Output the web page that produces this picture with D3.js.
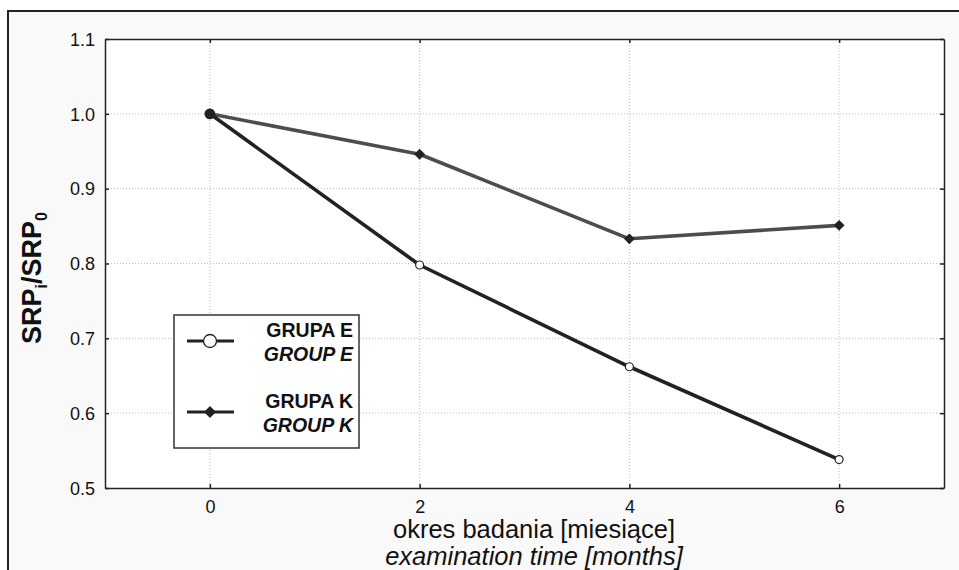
<!DOCTYPE html>
<html><head><meta charset="utf-8">
<script src="https://cdn.jsdelivr.net/npm/d3@7"></script>
<style>body{margin:0;background:#fff}svg{display:block;font-family:"Liberation Sans",Arial,sans-serif}</style>
</head><body>
<svg id="c" width="959" height="570"></svg>
<script>
const months = [0, 2, 4, 6];
const groupE = [1.0, 0.798, 0.662, 0.538];
const groupK = [1.0, 0.946, 0.833, 0.851];
const xTicks = [0, 2, 4, 6];
const yTicks = [0.5, 0.6, 0.7, 0.8, 0.9, 1.0, 1.1];
const legendE = ["GRUPA E", "GROUP E"];
const legendK = ["GRUPA K", "GROUP K"];
const xTitle = ["okres badania [miesiące]", "examination time [months]"];

const svg = d3.select("#c");
const m = {l:105, t:39, r:944, b:488};
const x = d3.scaleLinear().domain([-1, 7]).range([m.l, m.r]);
const y = d3.scaleLinear().domain([0.5, 1.1]).range([m.b, m.t]);

// outer frame
svg.append("rect").attr("x",8).attr("y",11).attr("width",980).attr("height",600)
  .attr("fill","#f9f9f9").attr("stroke","#222").attr("stroke-width",2);
// plot area
svg.append("rect").attr("x",m.l).attr("y",m.t).attr("width",m.r-m.l).attr("height",m.b-m.t)
  .attr("fill","#fff");

// grid
const g = svg.append("g");
g.selectAll(".gx").data(xTicks).join("line")
  .attr("x1",d=>x(d)).attr("x2",d=>x(d)).attr("y1",m.t).attr("y2",m.b)
  .attr("stroke","#bbb").attr("stroke-width",1).attr("stroke-dasharray","1,2");
g.selectAll(".gy").data(yTicks.slice(1,-1)).join("line")
  .attr("y1",d=>y(d)).attr("y2",d=>y(d)).attr("x1",m.l).attr("x2",m.r)
  .attr("stroke","#bbb").attr("stroke-width",1).attr("stroke-dasharray","1,2");

// axes
const ax = svg.append("g").attr("transform",`translate(0,${m.b})`)
  .call(d3.axisBottom(x).tickValues(xTicks).tickFormat(d3.format("d")).tickSizeInner(-4).tickSizeOuter(0).tickPadding(12));
const ay = svg.append("g").attr("transform",`translate(${m.l},0)`)
  .call(d3.axisLeft(y).tickValues(yTicks).tickFormat(d3.format(".1f")).tickSizeInner(-4).tickSizeOuter(0).tickPadding(10));
const at = svg.append("g").attr("transform",`translate(0,${m.t})`)
  .call(d3.axisTop(x).tickValues(xTicks).tickFormat("").tickSizeInner(-4).tickSizeOuter(0));
const ar = svg.append("g").attr("transform",`translate(${m.r},0)`)
  .call(d3.axisRight(y).tickValues(yTicks).tickFormat("").tickSizeInner(-4).tickSizeOuter(0));
[ax,ay,at,ar].forEach(a=>{
  a.select(".domain").attr("stroke","#222").attr("stroke-width",1.5);
  a.selectAll(".tick line").attr("stroke","#222").attr("stroke-width",1.5);
  a.selectAll("text").attr("font-size",18).attr("fill","#111").attr("font-family","Liberation Sans, Arial, sans-serif");
});
ay.selectAll("text").attr("dy","0.35em");

// lines
const pts = vals => months.map((mo,i)=>[mo, vals[i]]);
const line = d3.line().x(d=>x(d[0])).y(d=>y(d[1]));
svg.append("path").datum(pts(groupK)).attr("d",line).attr("fill","none")
  .attr("stroke","#4d4d4d").attr("stroke-width",3.6).attr("stroke-linejoin","round");
svg.append("path").datum(pts(groupE)).attr("d",line).attr("fill","none")
  .attr("stroke","#222").attr("stroke-width",3.6).attr("stroke-linejoin","round");

const diamond = d3.symbol().type(d3.symbolDiamond2).size(75);
// markers
svg.selectAll(".mk").data(pts(groupK)).join("path")
  .attr("transform",d=>`translate(${x(d[0])},${y(d[1])})`).attr("d",diamond).attr("fill","#222");
svg.selectAll(".me").data(pts(groupE)).join("circle")
  .attr("cx",d=>x(d[0])).attr("cy",d=>y(d[1])).attr("r",d=>groupK[months.indexOf(d[0])]===d[1]?4.8:4)
  .attr("fill",d=>groupK[months.indexOf(d[0])]===d[1]?"#222":"#fff")
  .attr("stroke","#222").attr("stroke-width",1.2);

// legend
const lg = svg.append("g");
lg.append("rect").attr("x",174).attr("y",315).attr("width",185).attr("height",133)
  .attr("fill","#fff").attr("stroke","#333").attr("stroke-width",1.5);
const ly = [341, 412];
[[legendE,"E"],[legendK,"K"]].forEach(([lab,k],i)=>{
  lg.append("line").attr("x1",187).attr("x2",234).attr("y1",ly[i]).attr("y2",ly[i])
    .attr("stroke","#222").attr("stroke-width",3);
  if(k==="E") lg.append("circle").attr("cx",210).attr("cy",ly[i]).attr("r",6.5)
    .attr("fill","#fff").attr("stroke","#222").attr("stroke-width",1.3);
  else lg.append("path").attr("transform",`translate(210,${ly[i]})`)
    .attr("d",d3.symbol().type(d3.symbolDiamond2).size(90)).attr("fill","#222");
  lg.append("text").attr("x",353).attr("y",ly[i]-4).attr("text-anchor","end")
    .attr("font-size",19.5).attr("font-weight","bold").attr("fill","#111").text(lab[0]);
  lg.append("text").attr("x",353).attr("y",ly[i]+20).attr("text-anchor","end")
    .attr("font-size",19.5).attr("font-weight","bold").attr("font-style","italic").attr("fill","#111").text(lab[1]);
});

// axis titles
svg.append("text").attr("x",534).attr("y",538).attr("text-anchor","middle")
  .attr("font-size",25.5).attr("fill","#111").text(xTitle[0]);
svg.append("text").attr("x",534).attr("y",565).attr("text-anchor","middle")
  .attr("font-size",25.5).attr("font-style","italic").attr("fill","#111").text(xTitle[1]);

const yt = svg.append("text").attr("transform","translate(41,278) rotate(-90)")
  .attr("text-anchor","middle").attr("font-size",27).attr("font-weight","bold").attr("fill","#111");
yt.append("tspan").text("SRP");
yt.append("tspan").attr("font-size",16).attr("dy",6).text("i");
yt.append("tspan").attr("dy",-6).text("/SRP");
yt.append("tspan").attr("font-size",16).attr("dy",6).text("0");
</script>
</body></html>
